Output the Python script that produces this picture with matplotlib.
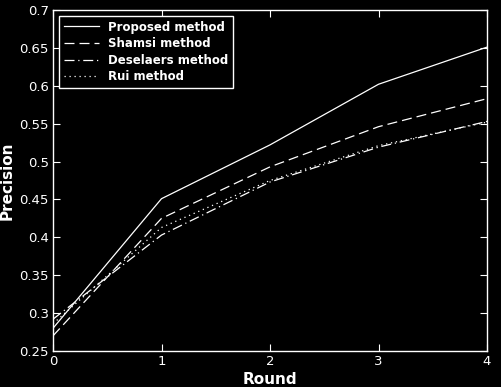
import numpy as np
from matplotlib import pyplot as plt

rounds = [0, 1, 2, 3, 4]
proposed = [0.280, 0.451, 0.522, 0.602, 0.651]
shamsi = [0.270, 0.425, 0.493, 0.546, 0.583]
deselaers = [0.292, 0.403, 0.473, 0.519, 0.553]
rui = [0.286, 0.413, 0.475, 0.521, 0.552]

fig = plt.figure(figsize=(5.01, 3.87), dpi=100, facecolor='black')
ax = fig.add_axes([53 / 501, 36 / 387, 434 / 501, 341 / 387])
ax.set_facecolor('black')

lw = 0.9
ax.plot(rounds, proposed, color='white', lw=lw, ls='-', label='Proposed method')
ax.plot(rounds, shamsi, color='white', lw=lw, ls=(0, (8, 4)), label='Shamsi method')
ax.plot(rounds, deselaers, color='white', lw=lw, ls=(0, (8, 3, 1, 3)), label='Deselaers method')
ax.plot(rounds, rui, color='white', lw=lw, ls=(0, (1, 3)), label='Rui method')

ax.set_xlim(0, 4)
ax.set_ylim(0.25, 0.7)
ax.set_xticks([0, 1, 2, 3, 4])
ax.set_yticks(np.arange(0.25, 0.701, 0.05))
ax.set_yticklabels(['0.25', '0.3', '0.35', '0.4', '0.45', '0.5', '0.55', '0.6', '0.65', '0.7'])

for s in ax.spines.values():
    s.set_color('white')
    s.set_linewidth(1.0)
ax.tick_params(direction='in', colors='white', labelsize=9.5, length=5,
               top=True, right=True, pad=3)

ax.set_xlabel('Round', color='white', fontsize=11, fontweight='bold')
ax.set_ylabel('Precision', color='white', fontsize=11, fontweight='bold')
ax.xaxis.set_label_coords(0.5, -0.062)
ax.yaxis.set_label_coords(-0.088, 0.5)

leg = ax.legend(loc='upper left', fancybox=False, framealpha=1, facecolor='black',
                edgecolor='white', prop={'weight': 'bold', 'size': 8.5},
                handlelength=3.0, borderaxespad=0.5, labelspacing=0.3)
for t in leg.get_texts():
    t.set_color('white')
leg.get_frame().set_linewidth(1.0)

plt.savefig('out.png', facecolor='black')
